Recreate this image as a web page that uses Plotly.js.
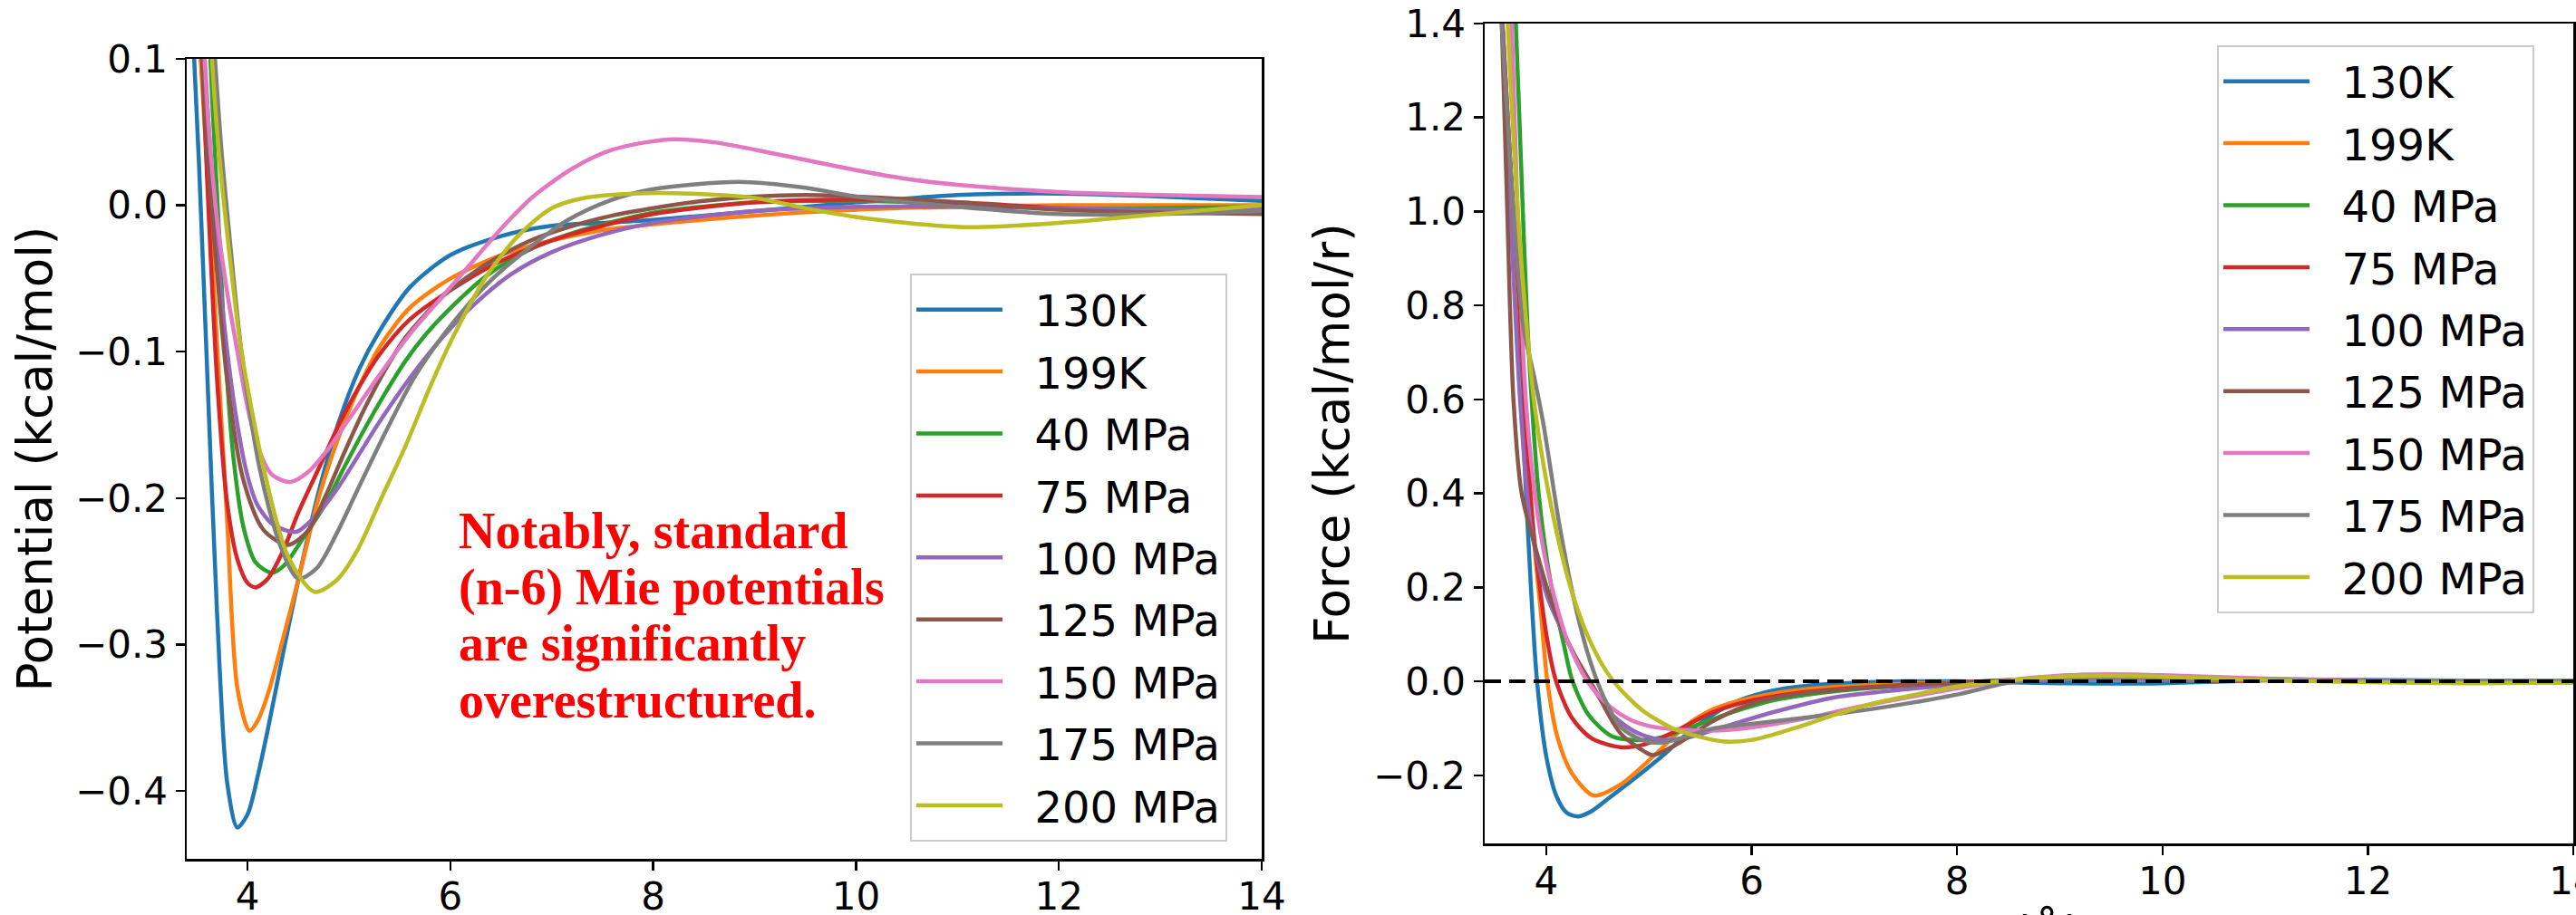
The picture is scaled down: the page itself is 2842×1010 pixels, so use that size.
<!DOCTYPE html>
<html>
<head>
<meta charset="utf-8">
<script src="https://cdn.plot.ly/plotly-3.0.1.min.js"></script>
<style>html,body{margin:0;padding:0;background:#fff;}#chart{width:2842px;height:1010px;}</style>
</head>
<body>
<div id="chart"></div>
<script>
// ---------- series names & colours ----------
const seriesNames = ["130K", "199K", "40 MPa", "75 MPa", "100 MPa", "125 MPa", "150 MPa", "175 MPa", "200 MPa"];
const seriesColors = ["#1f77b4", "#ff7f0e", "#2ca02c", "#d62728", "#9467bd", "#8c564b", "#e377c2", "#7f7f7f", "#bcbd22"];

// ---------- Potential (kcal/mol) vs r ----------
const pot_130K_r = [3.46, 3.52, 3.6, 3.7, 3.8, 3.9, 4.0, 4.1, 4.2, 4.35, 4.5, 4.7, 4.9, 5.1, 5.3, 5.6, 6.0, 6.5, 7.0, 7.5, 8, 9, 10, 11, 12, 13, 14];
const pot_130K_u = [0.12, 0.03, -0.11, -0.28, -0.395, -0.425, -0.416, -0.39, -0.358, -0.306, -0.256, -0.196, -0.148, -0.112, -0.086, -0.056, -0.034, -0.021, -0.014, -0.012, -0.010, -0.004, 0.002, 0.007, 0.008, 0.006, 0.003];

const pot_199K_r = [3.52, 3.6, 3.7, 3.8, 3.9, 4.02, 4.1, 4.2, 4.35, 4.5, 4.7, 4.9, 5.1, 5.3, 5.6, 6.0, 6.5, 7.0, 7.5, 8, 9, 10, 11, 12, 13, 14];
const pot_199K_u = [0.12, 0.027, -0.096, -0.217, -0.33, -0.359, -0.352, -0.334, -0.296, -0.256, -0.2, -0.158, -0.124, -0.097, -0.07, -0.05, -0.034, -0.024, -0.017, -0.013, -0.007, -0.003, -0.001, 0.0, 0.0, 0.0];

const pot_40MPa_r = [3.62, 3.66, 3.72, 3.78, 3.86, 3.96, 4.08, 4.24, 4.36, 4.56, 4.76, 4.96, 5.16, 5.36, 5.56, 5.76, 5.96, 6.36, 6.76, 7.16, 7.56, 8, 9, 10, 11, 12, 13, 14];
const pot_40MPa_u = [0.12, 0.06, -0.02, -0.1, -0.172, -0.22, -0.244, -0.251, -0.246, -0.226, -0.205, -0.178, -0.152, -0.128, -0.106, -0.088, -0.073, -0.048, -0.031, -0.02, -0.012, -0.005, 0.002, 0.003, 0.001, -0.002, -0.002, -0.001];

const pot_75MPa_r = [3.54, 3.6, 3.7, 3.8, 3.9, 4.0, 4.08, 4.2, 4.35, 4.5, 4.7, 4.9, 5.1, 5.3, 5.6, 6.0, 6.5, 7.0, 7.5, 8, 9, 10, 11, 12, 13, 14];
const pot_75MPa_u = [0.12, 0.02, -0.12, -0.204, -0.242, -0.258, -0.261, -0.255, -0.236, -0.21, -0.18, -0.15, -0.124, -0.102, -0.078, -0.058, -0.038, -0.024, -0.014, -0.006, 0.002, 0.004, 0.002, -0.002, -0.004, -0.004];

const pot_100MPa_r = [3.56, 3.62, 3.7, 3.8, 3.9, 4.0, 4.1, 4.25, 4.48, 4.7, 4.9, 5.1, 5.3, 5.6, 5.9, 6.2, 6.6, 7.0, 7.5, 8, 9, 10, 11, 12, 13, 14];
const pot_100MPa_u = [0.12, 0.05, -0.03, -0.1, -0.15, -0.185, -0.205, -0.218, -0.223, -0.21, -0.192, -0.17, -0.148, -0.118, -0.092, -0.07, -0.047, -0.032, -0.02, -0.012, -0.004, -0.001, -0.001, -0.002, -0.003, -0.003];

const pot_125MPa_r = [3.54, 3.6, 3.68, 3.8, 3.96, 4.16, 4.4, 4.6, 4.76, 4.96, 5.16, 5.36, 5.56, 5.76, 5.96, 6.36, 6.76, 7.16, 7.6, 8, 8.5, 9, 9.5, 10, 11, 12, 13, 14];
const pot_125MPa_u = [0.12, 0.04, -0.03, -0.12, -0.188, -0.222, -0.232, -0.222, -0.2, -0.168, -0.138, -0.112, -0.09, -0.074, -0.06, -0.04, -0.025, -0.015, -0.007, -0.002, 0.003, 0.006, 0.007, 0.006, 0.002, -0.003, -0.005, -0.006];

const pot_150MPa_r = [3.56, 3.62, 3.7, 3.8, 3.9, 4.0, 4.1, 4.24, 4.42, 4.6, 4.8, 5.0, 5.3, 5.6, 5.9, 6.2, 6.5, 6.8, 7.2, 7.6, 8.15, 8.6, 9.0, 9.5, 10, 10.5, 11, 12, 13, 14];
const pot_150MPa_u = [0.12, 0.05, -0.01, -0.06, -0.1, -0.138, -0.165, -0.184, -0.189, -0.182, -0.166, -0.146, -0.116, -0.088, -0.064, -0.04, -0.016, 0.005, 0.025, 0.038, 0.045, 0.043, 0.038, 0.031, 0.024, 0.018, 0.014, 0.009, 0.007, 0.0056];

const pot_175MPa_r = [3.66, 3.74, 3.82, 3.94, 4.12, 4.32, 4.5, 4.68, 4.88, 5.08, 5.36, 5.64, 5.96, 6.36, 6.76, 7.16, 7.56, 8.0, 8.84, 9.5, 10, 11, 12, 13, 14];
const pot_175MPa_u = [0.12, 0.04, -0.02, -0.1, -0.18, -0.232, -0.255, -0.248, -0.224, -0.195, -0.155, -0.118, -0.086, -0.054, -0.03, -0.01, 0.003, 0.011, 0.016, 0.012, 0.006, -0.001, -0.006, -0.006, -0.004];

const pot_200MPa_r = [3.63, 3.7, 3.8, 3.94, 4.16, 4.4, 4.66, 4.88, 5.08, 5.32, 5.56, 5.8, 6.04, 6.36, 6.68, 7.0, 7.32, 7.8, 8.36, 9.0, 9.5, 10, 10.5, 11.1, 12, 13, 14];
const pot_200MPa_u = [0.12, 0.05, -0.02, -0.1, -0.18, -0.24, -0.264, -0.256, -0.236, -0.2, -0.164, -0.124, -0.088, -0.048, -0.02, -0.002, 0.005, 0.008, 0.008, 0.005, -0.002, -0.008, -0.012, -0.015, -0.012, -0.006, 0.0];

// ---------- Force (kcal/mol/r) vs r ----------
const frc_130K_r = [3.56, 3.65, 3.72, 3.78, 3.85, 3.91, 4.0, 4.1, 4.2, 4.31, 4.45, 4.6, 4.84, 5.15, 5.43, 5.82, 6.2, 6.6, 7.0, 7.5, 8, 9, 10, 11, 12, 14];
const frc_130K_f = [1.45, 1.1, 0.8, 0.5, 0.2, 0.0, -0.16, -0.245, -0.28, -0.2875, -0.275, -0.25, -0.21, -0.155, -0.1, -0.046, -0.02, -0.008, -0.003, 0.0, 0.0, -0.004, -0.004, 0.002, 0.003, 0.0];

const frc_199K_r = [3.56, 3.66, 3.75, 3.82, 3.88, 3.95, 4.01, 4.11, 4.25, 4.46, 4.72, 5.04, 5.35, 5.63, 6.02, 6.6, 7.4, 8, 9, 10, 11, 12, 14];
const frc_199K_f = [1.45, 1.05, 0.75, 0.5, 0.3, 0.14, 0.0, -0.12, -0.196, -0.243, -0.22, -0.16, -0.096, -0.059, -0.034, -0.015, -0.006, -0.002, 0.004, 0.004, 0.002, 0.0, 0.0];

const frc_40MPa_r = [3.7, 3.78, 3.83, 3.93, 4.05, 4.17, 4.25, 4.41, 4.64, 4.9, 5.11, 5.43, 5.82, 6.22, 6.81, 7.4, 8, 9, 10, 11, 12, 14];
const frc_40MPa_f = [1.42, 0.95, 0.7, 0.39, 0.2, 0.079, 0.004, -0.071, -0.117, -0.125, -0.12, -0.096, -0.065, -0.04, -0.021, -0.011, -0.004, 0.007, 0.008, 0.004, 0.001, 0.0];

const frc_75MPa_r = [3.56, 3.65, 3.74, 3.8, 3.87, 4.0, 4.09, 4.25, 4.44, 4.72, 4.96, 5.23, 5.63, 6.02, 6.6, 7.4, 8, 9, 10, 11, 12, 14];
const frc_75MPa_f = [1.45, 1.1, 0.8, 0.55, 0.33, 0.1, 0.004, -0.078, -0.121, -0.14, -0.134, -0.109, -0.065, -0.04, -0.021, -0.009, -0.003, 0.006, 0.006, 0.003, 0.001, 0.0];

const frc_100MPa_r = [3.56, 3.65, 3.75, 3.85, 4.01, 4.25, 4.44, 4.64, 4.88, 5.11, 5.35, 5.74, 6.22, 6.81, 7.4, 8, 9, 10, 11, 12, 14];
const frc_100MPa_f = [1.45, 1.0, 0.58, 0.33, 0.18, 0.066, -0.009, -0.071, -0.109, -0.124, -0.121, -0.096, -0.065, -0.034, -0.019, -0.008, 0.004, 0.006, 0.003, 0.001, 0.0];

const frc_125MPa_r = [3.56, 3.62, 3.68, 3.76, 3.9, 4.05, 4.25, 4.48, 4.72, 4.96, 5.04, 5.27, 5.63, 6.02, 6.41, 7.0, 8, 9, 10, 11, 12, 14];
const frc_125MPa_f = [1.45, 1.0, 0.6, 0.4, 0.28, 0.17, 0.066, -0.02, -0.11, -0.15, -0.157, -0.134, -0.084, -0.046, -0.028, -0.015, -0.003, 0.008, 0.008, 0.004, 0.001, 0.0];

const frc_150MPa_r = [3.66, 3.72, 3.8, 3.9, 4.0, 4.2, 4.4, 4.6, 4.8, 5.0, 5.3, 5.6, 6.0, 6.5, 7.0, 7.5, 8.0, 8.5, 9.0, 9.5, 10, 11, 12, 14];
const frc_150MPa_f = [1.42, 1.0, 0.6, 0.38, 0.25, 0.09, 0.0, -0.05, -0.08, -0.095, -0.103, -0.105, -0.098, -0.08, -0.056, -0.035, -0.015, 0.002, 0.012, 0.015, 0.013, 0.006, 0.002, 0.0];

const frc_175MPa_r = [3.56, 3.65, 3.72, 3.78, 3.88, 3.97, 4.13, 4.29, 4.43, 4.56, 4.72, 4.92, 5.11, 5.31, 5.63, 6.02, 6.61, 7.2, 8.0, 8.5, 9, 10, 11, 12, 14];
const frc_175MPa_f = [1.42, 1.1, 0.88, 0.75, 0.65, 0.55, 0.33, 0.154, 0.041, -0.034, -0.096, -0.124, -0.131, -0.121, -0.1, -0.09, -0.075, -0.058, -0.028, -0.003, 0.006, 0.008, 0.004, 0.001, 0.0];

const frc_200MPa_r = [3.62, 3.7, 3.78, 3.89, 4.05, 4.25, 4.44, 4.64, 4.92, 5.23, 5.55, 5.74, 6.02, 6.41, 6.81, 7.2, 7.6, 8.0, 8.5, 9, 9.5, 10, 11, 12, 13, 14];
const frc_200MPa_f = [1.42, 1.08, 0.83, 0.58, 0.37, 0.19, 0.079, 0.004, -0.059, -0.1, -0.121, -0.128, -0.124, -0.1, -0.071, -0.046, -0.028, -0.011, 0.002, 0.01, 0.012, 0.01, 0.003, -0.002, -0.004, -0.003];

// ---------- axis ticks & texts ----------
const xTicks = [4, 6, 8, 10, 12, 14];
const potTicks = [-0.4, -0.3, -0.2, -0.1, 0.0, 0.1];
const frcTicks = [-0.2, 0.0, 0.2, 0.4, 0.6, 0.8, 1.0, 1.2, 1.4];
const noteLines = ["Notably, standard", "(n-6) Mie potentials", "are significantly", "overestructured."];
const xTitleRight = "r (Å)";

const potR = [pot_130K_r, pot_199K_r, pot_40MPa_r, pot_75MPa_r, pot_100MPa_r, pot_125MPa_r, pot_150MPa_r, pot_175MPa_r, pot_200MPa_r];
const potU = [pot_130K_u, pot_199K_u, pot_40MPa_u, pot_75MPa_u, pot_100MPa_u, pot_125MPa_u, pot_150MPa_u, pot_175MPa_u, pot_200MPa_u];
const frcR = [frc_130K_r, frc_199K_r, frc_40MPa_r, frc_75MPa_r, frc_100MPa_r, frc_125MPa_r, frc_150MPa_r, frc_175MPa_r, frc_200MPa_r];
const frcF = [frc_130K_f, frc_199K_f, frc_40MPa_f, frc_75MPa_f, frc_100MPa_f, frc_125MPa_f, frc_150MPa_f, frc_175MPa_f, frc_200MPa_f];

const FONT = "DejaVu Sans, Liberation Sans, sans-serif";
const LW = 4.5;
const PAD = "\u00A0\u00A0";
const traces = [];
seriesNames.forEach((nm, i) => {
  traces.push({
    type: "scatter", mode: "lines", x: potR[i], y: potU[i], name: PAD + nm,
    xaxis: "x", yaxis: "y", legend: "legend", legendgroup: "p" + i,
    line: {color: seriesColors[i], width: LW, shape: "spline", smoothing: 0.8},
    hoverinfo: "skip"
  });
});
seriesNames.forEach((nm, i) => {
  traces.push({
    type: "scatter", mode: "lines", x: frcR[i], y: frcF[i], name: PAD + nm,
    xaxis: "x2", yaxis: "y2", legend: "legend2", legendgroup: "f" + i,
    line: {color: seriesColors[i], width: LW, shape: "spline", smoothing: 0.8},
    hoverinfo: "skip"
  });
});

const W = 2842, H = 1010;
const axisCommon = {
  showline: true, mirror: true, linecolor: "#000", linewidth: 2.5,
  ticks: "outside", ticklen: 10, tickwidth: 2.5, tickcolor: "#000",
  showgrid: false, zeroline: false, ticklabeloverflow: "allow",
  tickfont: {family: FONT, size: 42, color: "#000"}
};
const legendCommon = {
  font: {family: FONT, size: 48, color: "#000"},
  bgcolor: "rgba(255,255,255,0.85)", bordercolor: "#cccccc", borderwidth: 2,
  xanchor: "left", yanchor: "top", tracegroupgap: 3, itemwidth: 95,
  traceorder: "grouped"
};

const annotations = noteLines.map((t, k) => ({
  text: t, xref: "x", yref: "y", x: 6.064, y: -0.2226 - k * 0.0384,
  xanchor: "left", yanchor: "middle", showarrow: false,
  font: {family: "Liberation Serif, Times New Roman, serif", size: 56, color: "#ff0000", weight: "bold"}
}));
annotations.push({
  text: xTitleRight, xref: "x2 domain", yref: "paper", x: 0.5, y: (H - 997) / H,
  xanchor: "center", yanchor: "top", showarrow: false,
  font: {family: FONT, size: 53, color: "#000"}
});

const layout = {
  width: W, height: H,
  margin: {l: 0, r: 0, t: 0, b: 0},
  paper_bgcolor: "#fff", plot_bgcolor: "#fff",
  showlegend: true,
  xaxis: Object.assign({}, axisCommon, {domain: [206 / W, 1392 / W], range: [3.4, 14], tickvals: xTicks, anchor: "y", ticklabelstandoff: -7}),
  yaxis: Object.assign({}, axisCommon, {domain: [(H - 948) / H, (H - 65) / H], range: [-0.4464, 0.1], tickvals: potTicks, tickformat: ".1f", anchor: "x",
    title: {text: "Potential (kcal/mol)", font: {family: FONT, size: 53, color: "#000"}, standoff: 9}}),
  xaxis2: Object.assign({}, axisCommon, {domain: [1638 / W, 2839 / W], range: [3.4, 14], tickvals: xTicks, anchor: "y2", ticklabelstandoff: -7}),
  yaxis2: Object.assign({}, axisCommon, {domain: [(H - 931) / H, (H - 26) / H], range: [-0.345, 1.4], tickvals: frcTicks, tickformat: ".1f", anchor: "x2",
    title: {text: "Force (kcal/mol/r)", font: {family: FONT, size: 53, color: "#000"}, standoff: 10}}),
  legend: Object.assign({}, legendCommon, {x: 1004 / W, y: (H - 302) / H}),
  legend2: Object.assign({}, legendCommon, {x: 2446 / W, y: (H - 50) / H}),
  shapes: [{type: "line", xref: "x2 domain", x0: 0, x1: 1, yref: "y2", y0: 0, y1: 0,
    line: {color: "#000", width: 4, dash: "18px,9px"}, layer: "above"}],
  annotations: annotations
};

Plotly.newPlot("chart", traces, layout, {displayModeBar: false, staticPlot: true});
</script>
</body>
</html>
